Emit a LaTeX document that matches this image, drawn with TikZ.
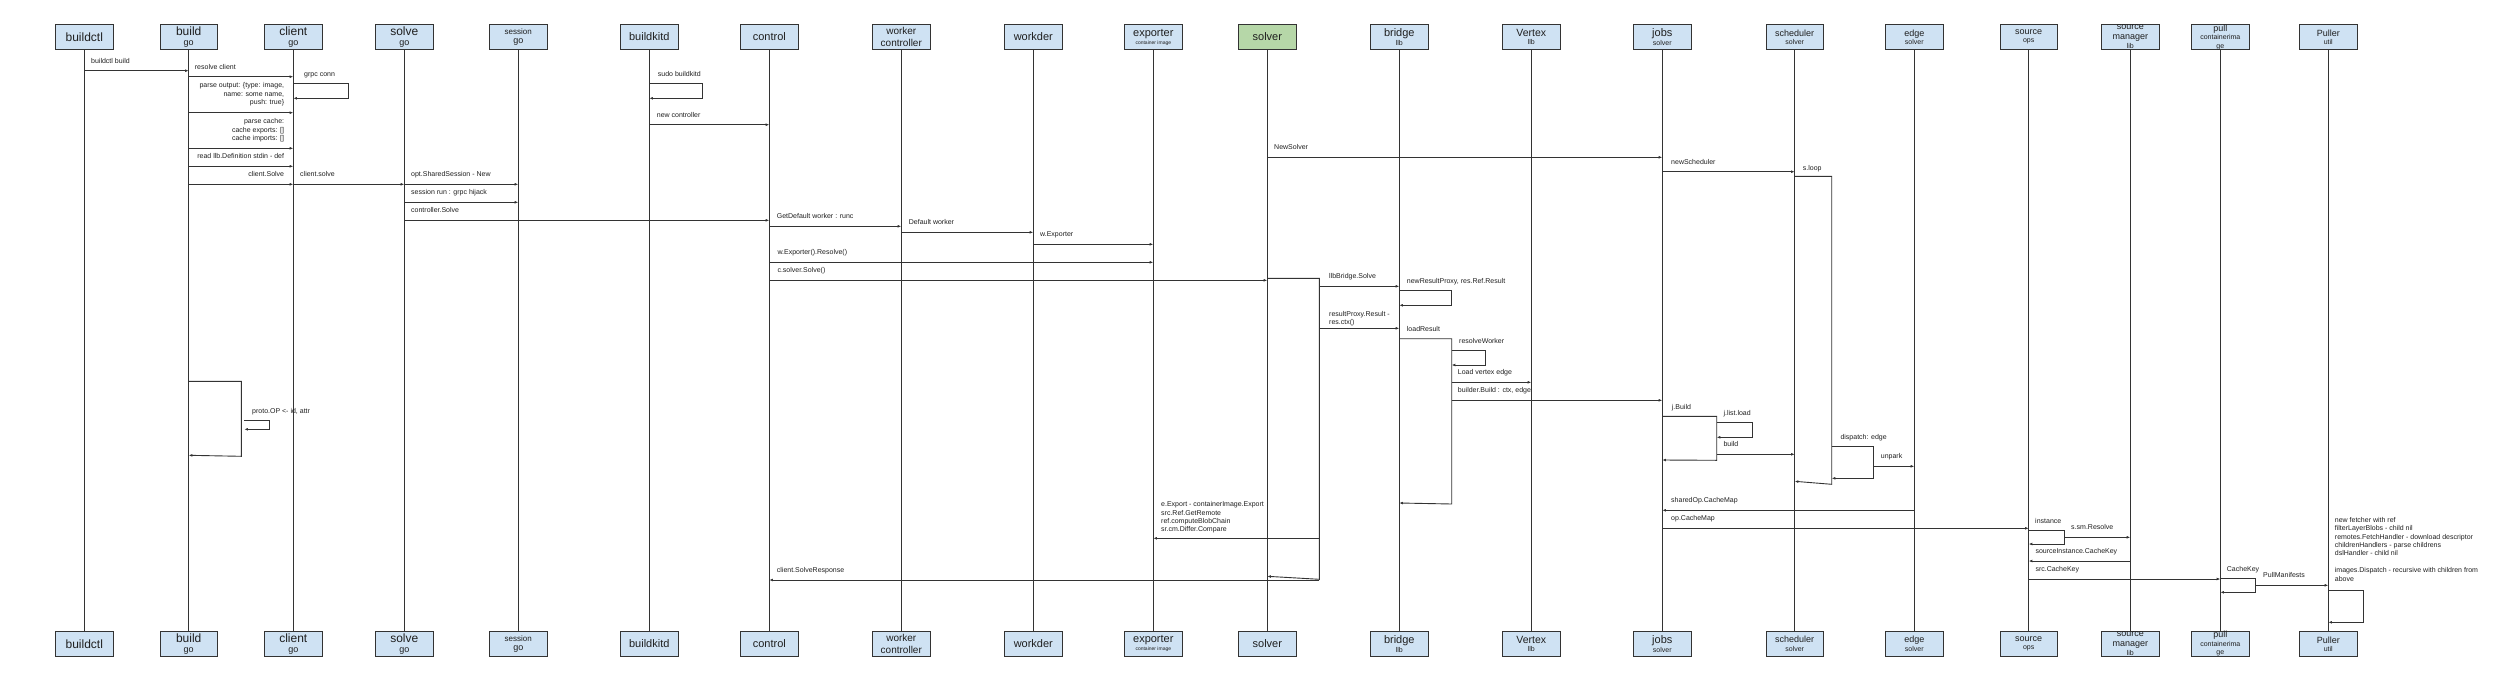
\documentclass[tikz,border=0pt]{standalone}
\usepackage{fontspec}
\setmainfont{Liberation Sans}
\usetikzlibrary{arrows.meta}
\definecolor{boxfill}{HTML}{CFE2F3}
\definecolor{greenfill}{HTML}{B6D7A8}
\definecolor{ln}{HTML}{333333}
\definecolor{txt}{HTML}{1F1F1F}
\newcommand{\fs}[1]{\fontsize{#1}{#1}\selectfont}
\newcommand{\seqactor}[5][boxfill]{%
  \node[actor,fill=#1,font=#4] (h#2) at (#3,37) {#5};
  \node[actor,fill=boxfill,font=#4] (f#2) at (#3,643.8) {#5};
  \draw[life] (h#2) -- (f#2);
}
\tikzset{
  actor/.style={draw=ln, line width=0.9pt, minimum width=57.4pt, minimum height=25.4pt, inner sep=0pt, align=center, text=txt},
  life/.style={draw=ln, line width=0.9pt},
  msg/.style={draw=ln, line width=0.9pt, -{Latex[length=3.6pt,width=2.8pt]}},
  lbl/.style={font=\fontsize{7}{8.3}\selectfont, inner sep=0pt, text height=5.1pt, text depth=1.5pt, text=txt},
  mlbl/.style={font=\fontsize{7}{8.4}\selectfont, inner sep=0pt, text=txt},
}
\begin{document}
\begin{tikzpicture}[x=1pt,y=-1pt]
\useasboundingbox (0,0) rectangle (2500,683);
% actors
\seqactor{buildctl}{84.3}{\fontsize{12}{12}\selectfont}{buildctl}
\seqactor{build}{188.7}{\fontsize{9}{10}\selectfont}{{\fs{12}build}\\{\fs{9}go}}
\seqactor{client}{293.3}{\fontsize{9}{10}\selectfont}{{\fs{12}client}\\{\fs{9}go}}
\seqactor{solve}{404.3}{\fontsize{9}{10}\selectfont}{{\fs{12}solve}\\{\fs{9}go}}
\seqactor{session}{518.3}{\fontsize{9}{9}\selectfont}{{\fs{8}session}\\{\fs{9}go}}
\seqactor{buildkitd}{649.3}{\fontsize{11}{11}\selectfont}{buildkitd}
\seqactor{control}{769.3}{\fontsize{11}{11}\selectfont}{control}
\seqactor{wctrl}{901.3}{\fontsize{10}{12}\selectfont}{worker\\controller}
\seqactor{workder}{1033.3}{\fontsize{11}{11}\selectfont}{workder}
\seqactor{exporter}{1153.3}{\fontsize{11}{8}\selectfont}{{\fs{11}exporter}\\{\fs{5}container image}}
\seqactor[greenfill]{solver}{1267.3}{\fontsize{11}{11}\selectfont}{solver}
\seqactor{bridge}{1399.3}{\fontsize{11}{8.5}\selectfont}{{\fs{11}bridge}\\{\fs{7}llb}}
\seqactor{vertex}{1531.3}{\fontsize{10.5}{8.5}\selectfont}{{\fs{10.5}Vertex}\\{\fs{7}llb}}
\seqactor{jobs}{1662.3}{\fontsize{11}{8.5}\selectfont}{{\fs{11}jobs}\\{\fs{7}solver}}
\seqactor{sched}{1794.7}{\fontsize{9}{8.3}\selectfont}{{\fs{9}scheduler}\\{\fs{7}solver}}
\seqactor{edge}{1914.3}{\fontsize{9}{8.3}\selectfont}{{\fs{9}edge}\\{\fs{7}solver}}
\seqactor{source}{2028.7}{\fontsize{9}{8}\selectfont}{{\fs{9}source}\\{\fs{7}ops}}
\seqactor{srcmgr}{2130.3}{\fontsize{9}{9.5}\selectfont}{{\fs{9}source}\\{\fs{9}manager}\\{\fs{7}lib}}
\seqactor{pull}{2220.3}{\fontsize{7}{8.5}\selectfont}{{\fs{9}pull}\\{\fs{7}containerima}\\{\fs{7}ge}}
\seqactor{puller}{2328.3}{\fontsize{9}{8}\selectfont}{{\fs{9}Puller}\\{\fs{7}util}}
% activation x positions
\coordinate (buildAct) at (241.3,0);
\coordinate (protoAct) at (244.3,0);
\coordinate (solverAct) at (1319.3,0);
\coordinate (bridgeAct) at (1451.7,0);
\coordinate (jobsAct) at (1716.7,0);
\coordinate (schedAct) at (1831.7,0);
\coordinate (dispAct) at (1873.3,0);
\coordinate (srcAct) at (2064.3,0);
\coordinate (pullAct) at (2255.7,0);
% build / client / solve
\draw[msg] (hbuildctl |- 0,70.7) -- (hbuild |- 0,70.7);
\node[lbl,anchor=west] (l1) at (91,61.3) {buildctl build};
\draw[msg] (hbuild |- 0,76.7) -- (hclient |- 0,76.7);
\node[lbl,anchor=west] (l2) at (194.7,67.3) {resolve client};
\draw[msg] (hclient |- 0,83.3) -- ++(55.4,0) |- (hclient |- 0,98.3);
\node[lbl,anchor=west] (l3) at (304,75) {grpc conn};
\draw[msg] (hbuild |- 0,112.7) -- (hclient |- 0,112.7);
\node[mlbl,anchor=north east,align=right] (l4) at (284.3,82.7) {parse output: \{type: image,\\name: some name,\\push: true\}};
\draw[msg] (hbuild |- 0,148.3) -- (hclient |- 0,148.3);
\node[mlbl,anchor=north east,align=right] (l5) at (284.3,118.7) {parse cache:\\cache exports: []\\cache imports: []};
\draw[msg] (hbuild |- 0,166.3) -- (hclient |- 0,166.3);
\node[lbl,anchor=east] (l6) at (284.3,157) {read llb.Definition stdin - def};
\draw[msg] (hbuild |- 0,184.3) -- (hclient |- 0,184.3);
\node[lbl,anchor=east] (l7) at (284.3,175) {client.Solve};
\draw[msg] (hclient |- 0,184.3) -- (hsolve |- 0,184.3);
\node[lbl,anchor=west] (l8) at (300,175) {client.solve};
\draw[msg] (hsolve |- 0,184.3) -- (hsession |- 0,184.3);
\node[lbl,anchor=west] (l9) at (411,175) {opt.SharedSession - New};
\draw[msg] (hsolve |- 0,202.3) -- (hsession |- 0,202.3);
\node[lbl,anchor=west] (l10) at (411,193) {session run : grpc hijack};
\draw[msg] (hsolve |- 0,220.3) -- (hcontrol |- 0,220.3);
\node[lbl,anchor=west] (l11) at (411,211) {controller.Solve};
% build loop
\draw[msg] (hbuild |- 0,381.3) -- (buildAct |- 0,381.3) -- (buildAct |- 0,456.3) -- (hbuild |- 0,455.3);
\draw[msg] (protoAct |- 0,420.3) -- ++(25,0) |- (protoAct |- 0,429.3);
\node[lbl,anchor=west] (l45) at (252,412) {proto.OP <- id, attr};
% buildkitd / control
\draw[msg] (hbuildkitd |- 0,83.3) -- ++(53.4,0) |- (hbuildkitd |- 0,98.3);
\node[lbl,anchor=west] (l12) at (657.7,75) {sudo buildkitd};
\draw[msg] (hbuildkitd |- 0,124.7) -- (hcontrol |- 0,124.7);
\node[lbl,anchor=west] (l13) at (656.7,115.3) {new controller};
\draw[msg] (hcontrol |- 0,226.3) -- (hwctrl |- 0,226.3);
\node[lbl,anchor=west] (l14) at (776.7,217) {GetDefault worker : runc};
\draw[msg] (hwctrl |- 0,232.3) -- (hworkder |- 0,232.3);
\node[lbl,anchor=west] (l15) at (908.7,222.7) {Default worker};
\draw[msg] (hworkder |- 0,244.3) -- (hexporter |- 0,244.3);
\node[lbl,anchor=west] (l16) at (1040,235) {w.Exporter};
\draw[msg] (hcontrol |- 0,262.3) -- (hexporter |- 0,262.3);
\node[lbl,anchor=west] (l17) at (777.3,253) {w.Exporter().Resolve()};
\draw[msg] (hcontrol |- 0,280.3) -- (hsolver |- 0,280.3);
\node[lbl,anchor=west] (l18) at (777.3,271) {c.solver.Solve()};
% solver
\draw[msg] (hsolver |- 0,157.3) -- (hjobs |- 0,157.3);
\node[lbl,anchor=west] (l19) at (1274,147.3) {NewSolver};
\draw[msg] (hjobs |- 0,171.7) -- (hsched |- 0,171.7);
\node[lbl,anchor=west] (l20) at (1671,162.3) {newScheduler};
\draw[msg] (hsched |- 0,176.3) -- (schedAct |- 0,176.3) -- (schedAct |- 0,484.3) -- (hsched |- 0,481.3);
\node[lbl,anchor=west] (l21) at (1802.7,168.3) {s.loop};
\draw[msg] (hsolver |- 0,278.3) -- (solverAct |- 0,278.3) -- (solverAct |- 0,579.3) -- (hsolver |- 0,576.3);
\draw[msg] (solverAct |- 0,286.3) -- (hbridge |- 0,286.3);
\node[lbl,anchor=west] (l22) at (1329,276.7) {llbBridge.Solve};
\draw[msg] (hbridge |- 0,290.3) -- (bridgeAct |- 0,290.3) -- (bridgeAct |- 0,305.3) -- (hbridge |- 0,305.3);
\node[lbl,anchor=west] (l23) at (1406.7,282) {newResultProxy, res.Ref.Result};
\draw[msg] (solverAct |- 0,328.3) -- (hbridge |- 0,328.3);
\node[mlbl,anchor=north west,align=left] (l24) at (1329,311) {resultProxy.Result -\\res.ctx()};
\draw[msg] (hbridge |- 0,338.7) -- (bridgeAct |- 0,338.7) -- (bridgeAct |- 0,504) -- (hbridge |- 0,503);
\node[lbl,anchor=west] (l25) at (1406.7,330) {loadResult};
\draw[msg] (bridgeAct |- 0,350.7) -- ++(33.6,0) |- (bridgeAct |- 0,365);
\node[lbl,anchor=west] (l26) at (1459,342) {resolveWorker};
\draw[msg] (bridgeAct |- 0,382.3) -- (hvertex |- 0,382.3);
\node[lbl,anchor=west] (l27) at (1457.7,372.7) {Load vertex edge};
\draw[msg] (bridgeAct |- 0,400.3) -- (hjobs |- 0,400.3);
\node[lbl,anchor=west] (l28) at (1457.7,390.7) {builder.Build : ctx, edge};
% jobs / scheduler / edge
\draw[msg] (hjobs |- 0,416.3) -- (jobsAct |- 0,416.3) -- (jobsAct |- 0,460.3) -- (hjobs |- 0,460);
\node[lbl,anchor=west] (l29) at (1671.7,407.7) {j.Build};
\draw[msg] (jobsAct |- 0,422.3) -- ++(36,0) |- (jobsAct |- 0,437.3);
\node[lbl,anchor=west] (l30) at (1723.3,413.7) {j.list.load};
\draw[msg] (jobsAct |- 0,454.3) -- (hsched |- 0,454.3);
\node[lbl,anchor=west] (l31) at (1723.3,444.3) {build};
\draw[msg] (schedAct |- 0,446.3) -- (dispAct |- 0,446.3) -- (dispAct |- 0,478.3) -- (schedAct |- 0,478.3);
\node[lbl,anchor=west] (l32) at (1840.3,437.7) {dispatch: edge};
\draw[msg] (dispAct |- 0,466.3) -- (hedge |- 0,466.3);
\node[lbl,anchor=west] (l33) at (1880.7,456.7) {unpark};
\draw[msg] (hedge |- 0,510.3) -- (hjobs |- 0,510.3);
\node[lbl,anchor=west] (l34) at (1671,501) {sharedOp.CacheMap};
\draw[msg] (hjobs |- 0,528.3) -- (hsource |- 0,528.3);
\node[lbl,anchor=west] (l35) at (1671,519) {op.CacheMap};
% source / pull / puller
\draw[msg] (hsource |- 0,530.3) -- (srcAct |- 0,530.3) -- (srcAct |- 0,544) -- (hsource |- 0,544);
\node[lbl,anchor=west] (l36) at (2035,521.7) {instance};
\draw[msg] (srcAct |- 0,537.3) -- (hsrcmgr |- 0,537.3);
\node[lbl,anchor=west] (l37) at (2071,527.7) {s.sm.Resolve};
\draw[msg] (hsrcmgr |- 0,561) -- (hsource |- 0,561);
\node[lbl,anchor=west] (l38) at (2035.3,551.7) {sourceInstance.CacheKey};
\draw[msg] (hsource |- 0,579) -- (hpull |- 0,579);
\node[lbl,anchor=west] (l39) at (2035.3,569.3) {src.CacheKey};
\draw[msg] (hpull |- 0,578.3) -- (pullAct |- 0,578.3) -- (pullAct |- 0,592.3) -- (hpull |- 0,592.3);
\node[lbl,anchor=west] (l40) at (2226.7,569.3) {CacheKey};
\draw[msg] (pullAct |- 0,585.3) -- (hpuller |- 0,585.3);
\node[lbl,anchor=west] (l41) at (2263,575.3) {PullManifests};
\node[mlbl,anchor=north west,align=left] (l42) at (2334.7,517) {new fetcher with ref\\filterLayerBlobs - child nil\\remotes.FetchHandler - download descriptor\\childrenHandlers - parse childrens\\dslHandler - child nil\\[8.4pt]images.Dispatch - recursive with children from\\above};
\draw[msg] (hpuller |- 0,590.3) -- ++(35,0) |- (hpuller |- 0,622.3);
% exports / response
\draw[msg] (solverAct |- 0,538.3) -- (hexporter |- 0,538.3);
\node[mlbl,anchor=north west,align=left] (l43) at (1161,501.4) {e.Export - containerImage.Export\\src.Ref.GetRemote\\ref.computeBlobChain\\sr.cm.Differ.Compare};
\draw[msg] (solverAct |- 0,580) -- (hcontrol |- 0,580);
\node[lbl,anchor=west] (l44) at (776.7,570.3) {client.SolveResponse};
\end{tikzpicture}
\end{document}
